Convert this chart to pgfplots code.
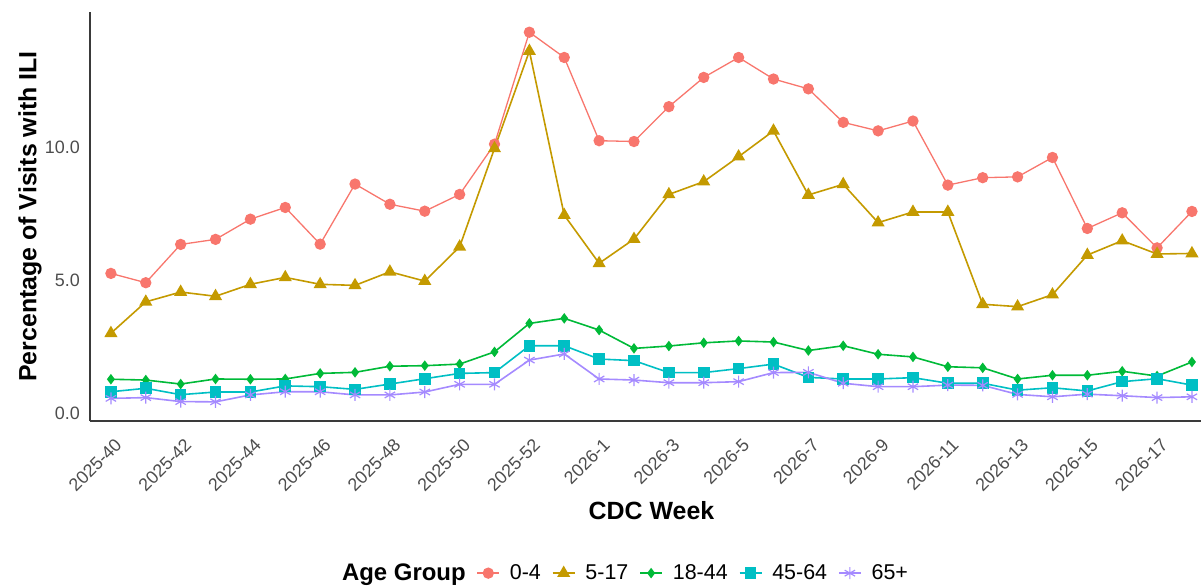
\documentclass[border=0pt]{standalone}
\usepackage{fontspec}
\setmainfont{Liberation Sans}
\usepackage{pgfplots}
\usepackage{pgfplotstable}
\pgfplotsset{compat=1.18}

\definecolor{c04}{HTML}{F8766D}
\definecolor{c517}{HTML}{C49A00}
\definecolor{c1844}{HTML}{00BA38}
\definecolor{c4564}{HTML}{00BFC4}
\definecolor{c65}{HTML}{A58AFF}
\definecolor{tickgray}{HTML}{4D4D4D}
\definecolor{axisgray}{HTML}{3A3A3A}

% idx 13 is 2025-53
\pgfplotstableread{
idx week    a04    a517   a1844  a4564  a65
0   2025-40 5.25   3.00   1.27   0.80   0.55
1   2025-41 4.90   4.18   1.24   0.93   0.58
2   2025-42 6.34   4.55   1.09   0.69   0.43
3   2025-43 6.53   4.39   1.28   0.79   0.42
4   2025-44 7.29   4.84   1.27   0.79   0.68
5   2025-45 7.73   5.10   1.28   1.02   0.80
6   2025-46 6.35   4.84   1.49   0.99   0.80
7   2025-47 8.61   4.80   1.53   0.89   0.68
8   2025-48 7.85   5.31   1.76   1.09   0.68
9   2025-49 7.59   4.96   1.78   1.29   0.79
10  2025-50 8.22   6.25   1.84   1.49   1.08
11  2025-51 10.11  9.95   2.30   1.52   1.08
12  2025-52 14.32  13.61  3.37   2.53   1.99
13  2025-53 13.37  7.44   3.56   2.53   2.22
14  2026-1  10.24  5.63   3.12   2.03   1.28
15  2026-2  10.21  6.54   2.43   1.97   1.24
16  2026-3  11.52  8.22   2.52   1.52   1.14
17  2026-4  12.62  8.70   2.64   1.52   1.14
18  2026-5  13.37  9.64   2.71   1.67   1.18
19  2026-6  12.56  10.61  2.67   1.84   1.52
20  2026-7  12.19  8.20   2.35   1.34   1.53
21  2026-8  10.93  8.60   2.53   1.28   1.12
22  2026-9  10.61  7.16   2.21   1.28   0.99
23  2026-10 10.98  7.56   2.11   1.33   0.99
24  2026-11 8.57   7.56   1.74   1.12   1.05
25  2026-12 8.85   4.09   1.70   1.12   1.04
26  2026-13 8.88   4.00   1.28   0.86   0.70
27  2026-14 9.61   4.45   1.42   0.95   0.61
28  2026-15 6.94   5.94   1.42   0.83   0.71
29  2026-16 7.53   6.48   1.57   1.18   0.65
30  2026-17 6.21   5.98   1.39   1.29   0.58
31  2026-18 7.58   6.00   1.92   1.05   0.61
}\iliweekly

\begin{document}
\begin{tikzpicture}
\begin{axis}[
    name=main,
    at={(0,0)}, anchor=south west,
    scale only axis,
    width=1111bp, height=409bp,
    xmin=-0.6, xmax=31.26,
    ymin=-0.30, ymax=15.08,
    clip=false,
    axis x line*=bottom,
    axis y line*=left,
    axis line style={draw=axisgray, line width=1.2bp, -},
    major tick length=0pt,
    xtick={0,2,4,6,8,10,12,14,16,18,20,22,24,26,28,30},
    xticklabels={2025-40,2025-42,2025-44,2025-46,2025-48,2025-50,2025-52,
      2026-1,2026-3,2026-5,2026-7,2026-9,2026-11,2026-13,2026-15,2026-17},
    ytick={0,5,10},
    yticklabels={0.0,5.0,10.0},
    tick label style={font=\fontsize{18}{18}\selectfont, text=tickgray},
    yticklabel style={anchor=east, inner sep=0pt, xshift=-10bp},
    % shifts are in the rotated frame: canvas offset about (+3,-16)
    xticklabel style={rotate=45, anchor=north east, inner sep=0pt, xshift=-9.2bp, yshift=-13.4bp},
    xlabel={\textbf{CDC Week}},
    ylabel={\textbf{Percentage of Visits with ILI}},
    label style={font=\fontsize{25}{25}\selectfont},
    xlabel style={at={(axis description cs:0.5054,-0.220)}, anchor=center},
    ylabel style={at={(axis description cs:-0.054,0.5)}, anchor=center},
    every axis plot/.append style={line width=1.6bp},
    legend columns=-1,
    legend style={at={(axis description cs:0.478,-0.372)}, anchor=center,
      draw=none, fill=none, font=\fontsize{21.5}{24}\selectfont,
      /tikz/every odd column/.append style={column sep=8bp},
      /tikz/every even column/.append style={column sep=9bp}},
    legend image code/.code={
      \draw[mark repeat=2,mark phase=2] plot coordinates {(0bp,0bp) (11bp,0bp) (22bp,0bp)};},
]
\addlegendimage{empty legend}
\addlegendentry{\fontsize{24}{24}\selectfont\textbf{Age Group}}
\addplot[c04, line width=1.3bp, mark=*, mark size=5bp, mark options={solid}]
  table[x=idx, y=a04]{\iliweekly};
\addlegendentry{0-4}
\addplot[c517, mark=triangle*, mark size=6bp, mark options={solid}]
  table[x=idx, y=a517]{\iliweekly};
\addlegendentry{5-17}
\addplot[c1844, mark=diamond*, mark size=4bp, mark options={solid}]
  table[x=idx, y=a1844]{\iliweekly};
\addlegendentry{18-44}
\addplot[c4564, mark=square*, mark size=5bp, mark options={solid}]
  table[x=idx, y=a4564]{\iliweekly};
\addlegendentry{45-64}
\addplot[c65, mark=asterisk, mark size=6bp, mark options={solid, line width=1.2bp}]
  table[x=idx, y=a65]{\iliweekly};
\addlegendentry{65+}
\end{axis}
\pgfresetboundingbox
\path[use as bounding box] (main.south west) ++(-90bp,-166bp) rectangle ++(1201bp,587bp);
\end{tikzpicture}
\end{document}
